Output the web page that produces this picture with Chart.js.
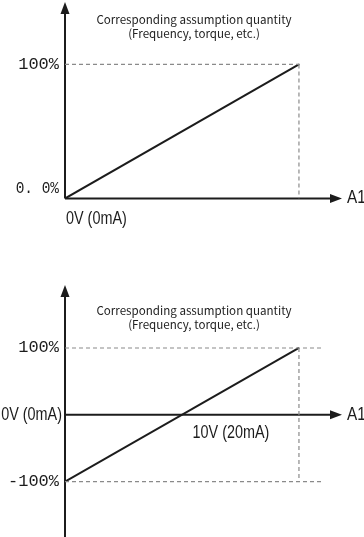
<!DOCTYPE html>
<html>
<head>
<meta charset="utf-8">
<script src="https://cdn.jsdelivr.net/npm/chart.js@4"></script>
<style>
  html, body { margin: 0; padding: 0; background: #fff; }
  #wrap { position: relative; width: 364px; height: 537px; overflow: hidden; }
  canvas { position: absolute; left: 0; }
  #topChart { top: 0; }
  #bottomChart { top: 270px; }
</style>
</head>
<body>
<div id="wrap">
  <canvas id="topChart" width="364" height="270"></canvas>
  <canvas id="bottomChart" width="364" height="267"></canvas>
</div>
<script>
// input (V) -> corresponding quantity (%)
const topInput = [0, 10];
const topOutput = [0, 100];
const bottomInput = [0, 10];
const bottomOutput = [-100, 100];

const topLevels = [100, 0];
const topLevelLabels = ['100%', '0. 0%'];
const bottomLevels = [100, -100];
const bottomLevelLabels = ['100%', '-100%'];

const titleLines = ['Corresponding assumption quantity', '(Frequency, torque, etc.)'];
const zeroLabel = '0V (0mA)';
const fullLabel = '10V (20mA)';
const axisName = 'A1';

const ink = '#1c1c1c';
const dashColor = '#8a8a8a';
const monoFont = '17px "Liberation Mono", "DejaVu Sans Mono", monospace';
const narrowFont = '18px "Liberation Sans", Arial, sans-serif';

function toPoints(xs, ys) {
    return xs.map((x, i) => ({ x: x, y: ys[i] }));
}

// text squeezed horizontally (the source uses a condensed face)
function squeezeText(ctx, text, x, y, align, sx) {
    const w = ctx.measureText(text).width * sx;
    let left = x;
    if (align === 'right') left = x - w;
    if (align === 'center') left = x - w / 2;
    ctx.save();
    ctx.translate(left, y);
    ctx.scale(sx, 1);
    ctx.textAlign = 'left';
    ctx.fillText(text, 0, 0);
    ctx.restore();
}

// axes with arrowheads + text, drawn from the chart's own scales
function makeDecor(opts) {
    return {
        id: 'decor',
        beforeDatasetsDraw(chart) {
            const ctx = chart.ctx;
            const xs = chart.scales.x, ys = chart.scales.y, area = chart.chartArea;
            const x0 = xs.getPixelForValue(0);
            const y0 = ys.getPixelForValue(0);
            ctx.save();
            ctx.strokeStyle = ink;
            ctx.fillStyle = ink;
            ctx.lineWidth = 2;
            // vertical axis
            ctx.beginPath();
            ctx.moveTo(x0, area.top + 8);
            ctx.lineTo(x0, opts.axisToBottom ? chart.height : y0);
            ctx.stroke();
            ctx.beginPath();
            ctx.moveTo(x0, area.top);
            ctx.lineTo(x0 - 4.5, area.top + 12);
            ctx.lineTo(x0 + 4.5, area.top + 12);
            ctx.closePath();
            ctx.fill();
            // horizontal axis
            ctx.beginPath();
            ctx.moveTo(x0, y0);
            ctx.lineTo(area.right - 8, y0);
            ctx.stroke();
            ctx.beginPath();
            ctx.moveTo(area.right, y0);
            ctx.lineTo(area.right - 12, y0 - 4.5);
            ctx.lineTo(area.right - 12, y0 + 4.5);
            ctx.closePath();
            ctx.fill();

            // title
            ctx.fillStyle = '#222';
            ctx.font = '11.6px "Noto Sans CJK SC", "Noto Sans", sans-serif';
            ctx.textAlign = 'center';
            ctx.textBaseline = 'middle';
            titleLines.forEach((t, i) => ctx.fillText(t, 194, opts.titleY + i * 14));

            // level labels
            ctx.fillStyle = ink;
            ctx.font = monoFont;
            opts.levels.forEach((v, i) => {
                const zero = v === 0;
                squeezeText(ctx, opts.levelLabels[i], x0 - 6, ys.getPixelForValue(v) + (zero ? -10 : 0), 'right', zero ? 0.85 : 1);
            });

            ctx.font = narrowFont;
            if (opts.zeroBelow) {
                squeezeText(ctx, zeroLabel, x0 + 1, y0 + 21, 'left', 0.8);
            } else {
                squeezeText(ctx, zeroLabel, x0 - 3, y0, 'right', 0.8);
                squeezeText(ctx, fullLabel, xs.getPixelForValue(5.45), y0 + 18, 'left', 0.8);
            }
            squeezeText(ctx, axisName, area.right + 5, y0, 'left', 0.85);
            ctx.restore();
        }
    };
}

function guideSet(data) {
    return {
        data: data,
        borderColor: dashColor,
        borderWidth: 1.2,
        borderDash: [4, 3],
        pointRadius: 0,
        showLine: true,
        fill: false
    };
}

function buildChart(canvasId, pts, levels, guideEnd, yMin, yMax, decor, pad) {
    const hi = Math.max(...levels), lo = Math.min(...levels);
    const fullX = pts[pts.length - 1].x;
    return new Chart(document.getElementById(canvasId), {
        type: 'scatter',
        data: {
            datasets: [
                guideSet(levels.filter(v => v !== 0).map(v => [{ x: 0, y: v }, { x: guideEnd, y: v }, { x: NaN, y: NaN }]).flat()),
                guideSet([{ x: fullX, y: hi }, { x: fullX, y: lo }]),
                {
                    data: pts,
                    borderColor: ink,
                    borderWidth: 2,
                    pointRadius: 0,
                    showLine: true,
                    fill: false
                }
            ]
        },
        options: {
            responsive: false,
            animation: false,
            devicePixelRatio: 1,
            spanGaps: false,
            layout: { padding: pad },
            plugins: { legend: { display: false }, tooltip: { enabled: false } },
            scales: {
                x: { type: 'linear', display: false, min: 0, max: 11.84 },
                y: { type: 'linear', display: false, min: yMin, max: yMax }
            }
        },
        plugins: [decor]
    });
}

buildChart('topChart', toPoints(topInput, topOutput), topLevels, 10.1, 0, 146.6,
    makeDecor({ titleY: 20, levels: topLevels, levelLabels: topLevelLabels, zeroBelow: true, axisToBottom: false }),
    { left: 65, right: 22, top: 2, bottom: 71.5 });

buildChart('bottomChart', toPoints(bottomInput, bottomOutput), bottomLevels, 11, -182.7, 194.2,
    makeDecor({ titleY: 40.5, levels: bottomLevels, levelLabels: bottomLevelLabels, zeroBelow: false, axisToBottom: true }),
    { left: 65, right: 22, top: 15, bottom: 0 });
</script>
</body>
</html>
